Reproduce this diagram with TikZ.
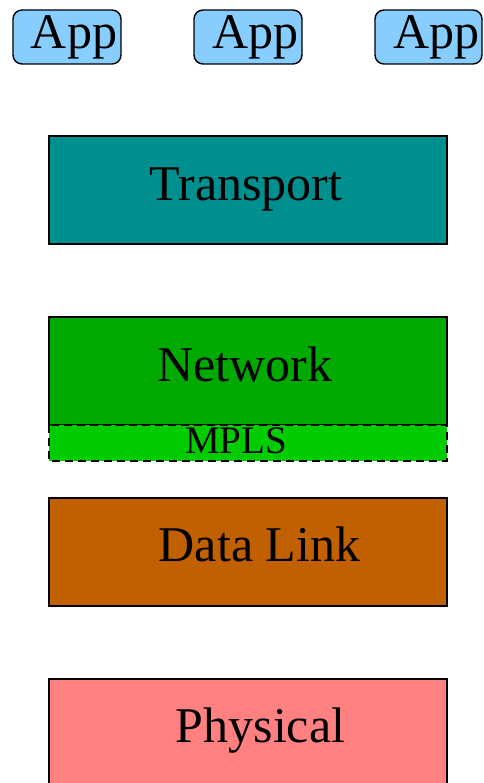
\documentclass[tikz,border=0pt]{standalone}
\usepackage{fontspec}
\setmainfont{Liberation Serif}
\definecolor{appblue}{RGB}{135,206,255}
\definecolor{transcol}{RGB}{0,143,143}
\definecolor{netcol}{RGB}{0,170,0}
\definecolor{mplscol}{RGB}{0,204,0}
\definecolor{linkcol}{RGB}{192,96,0}
\definecolor{physcol}{RGB}{255,128,128}
\tikzset{
  layerbox/.style={draw=black,line width=1.4pt},
  appbox/.style={draw=black,line width=1.4pt,fill=appblue,rounded corners=9pt},
  big/.style={font=\fontsize{50}{60}\selectfont,inner sep=0pt,anchor=base},
  small/.style={font=\fontsize{39}{46}\selectfont,inner sep=0pt,anchor=base}
}
\begin{document}
\begin{tikzpicture}[x=1pt,y=-1pt]
\useasboundingbox (0,0) rectangle (483,783);
\begin{scope}
\clip (0,0) rectangle (483,783);
\filldraw[appbox] (13,10) rectangle (121,64);
\filldraw[appbox] (194,10) rectangle (302,64);
\filldraw[appbox] (375,10) rectangle (482,64);
\filldraw[layerbox,fill=transcol] (49,136) rectangle (447,244);
\filldraw[layerbox,fill=netcol] (49,317) rectangle (447,425);
\filldraw[layerbox,fill=mplscol,dashed,dash pattern=on 8pt off 5pt] (49,425) rectangle (447,461);
\filldraw[layerbox,fill=linkcol] (49,498) rectangle (447,606);
\filldraw[layerbox,fill=physcol] (49,679) rectangle (447,800);
\end{scope}
\node[big] (app1) at (74,49) {App};
\node[big] (app2) at (255.5,49) {App};
\node[big] (app3) at (436.5,49) {App};
\node[big] (transport) at (246,201) {Transport};
\node[big] (network) at (245,381) {Network};
\node[small] (mpls) at (236,453) {MPLS};
\node[big] (datalink) at (259.5,561) {Data Link};
\node[big] (physical) at (260.5,742) {Physical};
\end{tikzpicture}
\end{document}
